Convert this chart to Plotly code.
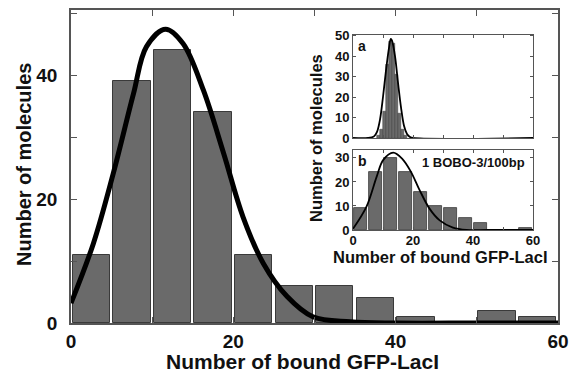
import plotly.graph_objects as go

# ---------------- data ----------------
# main histogram (bin width 5)
main_bin_starts = [0, 5, 10, 15, 20, 25, 30, 35, 40, 45, 50, 55]
main_counts = [11, 39, 44, 34, 11, 6, 6, 4, 1, 0, 2, 1]
main_fit_x = [0, 2.75, 5.2, 7.7, 9.3, 11.66, 13.8, 16.3, 18.8, 21.2, 23.7, 26.6, 29.8, 34.4, 40, 50, 60]
main_fit_y = [3.2, 12.8, 24.1, 37.0, 44.6, 47.4, 45.1, 37.6, 27.4, 17.1, 9.6, 4.3, 1.0, 0.2, 0.0, 0.0, 0.0]

# inset a (bin width 1)
a_bin_starts = [8, 9, 10, 11, 12, 13, 14, 15, 16, 17]
a_counts = [1, 4, 13, 36, 47, 46, 31, 12, 4, 1]
a_fit_x = [0, 5, 7, 8, 9, 10, 11, 12, 12.6, 13, 14, 15, 16, 17, 18, 19, 20, 60]
a_fit_y = [0, 0, 0.8, 3, 9, 20, 33, 44, 48.4, 47.5, 40, 27, 15, 6, 2, 0.5, 0, 0]

# inset b (bin width 5)
b_bin_starts = [0, 5, 10, 15, 20, 25, 30, 35, 40, 45, 50, 55]
b_counts = [9, 24, 30, 24, 16, 10, 9, 5, 3, 0, 0, 1]
b_fit_x = [0, 4.5, 7.9, 10.1, 13.4, 16.5, 19.4, 22.2, 25.5, 28.9, 33.3, 37.8, 45, 60]
b_fit_y = [0.5, 9.7, 22.2, 29.2, 32.2, 29.5, 24.0, 16.6, 8.9, 4.0, 1.0, 0.0, 0.0, 0.0]

main_xticks = [0, 10, 20, 30, 40, 50, 60]
main_xticktext = ["0", "", "20", "", "40", "", "60"]
main_yticks = [0, 10, 20, 30, 40, 50]
main_yticktext = ["0", "", "20", "", "40", ""]
a_yticks = [0, 10, 20, 30, 40, 50]
b_yticks = [0, 10, 20, 30]
inset_xticks = [0, 10, 20, 30, 40, 50, 60]
inset_xticktext = ["0", "", "20", "", "40", "", "60"]

xlabel = "Number of bound GFP-LacI"
ylabel = "Number of molecules"
note_b = "1 BOBO-3/100bp"

# ---------------- figure ----------------
W, H = 571, 374
L, R, T, B = 71, 13, 10, 51
PW, PH = W - L - R, H - T - B


def px(x):
    return (x - L) / PW


def py(y):
    return (H - B - y) / PH


FONT = "Liberation Sans, Arial, Helvetica, sans-serif"
BAR = "#6a6a6a"
EDGE = "#3a3a3a"
AX = "#555555"

fig = go.Figure()

fig.add_trace(go.Bar(x=[s + 2.5 for s in main_bin_starts], y=main_counts, width=4.6,
                     marker=dict(color=BAR, line=dict(color=EDGE, width=1)),
                     xaxis="x", yaxis="y", showlegend=False))
fig.add_trace(go.Scatter(x=main_fit_x, y=main_fit_y, mode="lines", line=dict(color="black", width=5, shape="spline"),
                         xaxis="x", yaxis="y", showlegend=False))

fig.add_trace(go.Bar(x=[s + 0.5 for s in a_bin_starts], y=a_counts, width=0.85,
                     marker=dict(color=BAR, line=dict(color=EDGE, width=0.5)),
                     xaxis="x2", yaxis="y2", showlegend=False))
fig.add_trace(go.Scatter(x=a_fit_x, y=a_fit_y, mode="lines", line=dict(color="black", width=1.8, shape="spline"),
                         xaxis="x2", yaxis="y2", showlegend=False))

fig.add_trace(go.Bar(x=[s + 2.5 for s in b_bin_starts], y=b_counts, width=4.5,
                     marker=dict(color=BAR, line=dict(color=EDGE, width=0.8)),
                     xaxis="x3", yaxis="y3", showlegend=False))
fig.add_trace(go.Scatter(x=b_fit_x, y=b_fit_y, mode="lines", line=dict(color="black", width=1.8, shape="spline"),
                         xaxis="x3", yaxis="y3", showlegend=False))

main_tf = dict(family=FONT, size=19, color="#111", weight="bold")
ins_tf = dict(family=FONT, size=13, color="#111", weight="bold")

common = dict(showline=True, linecolor=AX, linewidth=1.5, mirror="ticks", ticks="inside",
              tickcolor=AX, showgrid=False, zeroline=False, fixedrange=True, automargin=False)

fig.update_layout(
    template="none",
    width=W, height=H,
    margin=dict(l=L, r=R, t=T, b=B, autoexpand=False),
    paper_bgcolor="white", plot_bgcolor="white",
    bargap=0,
    xaxis=dict(domain=[0, 1], range=[0, 60], tickvals=main_xticks, ticktext=main_xticktext,
               ticklen=6, tickfont=main_tf, **common),
    yaxis=dict(domain=[0, 1], range=[0, 50.5], tickvals=main_yticks, ticktext=main_yticktext,
               ticklen=6, tickfont=main_tf, ticklabelstandoff=8, **common),
    xaxis2=dict(domain=[px(353), px(533)], anchor="y2", range=[0, 60], tickvals=inset_xticks,
                showticklabels=False, ticklen=3, **{**common, "linewidth": 1}),
    yaxis2=dict(domain=[py(138), py(34.5)], anchor="x2", range=[0, 50.5], tickvals=a_yticks,
                ticklen=3, tickfont=ins_tf, **{**common, "linewidth": 1}),
    xaxis3=dict(domain=[px(353), px(533)], anchor="y3", range=[0, 60], tickvals=inset_xticks,
                ticktext=inset_xticktext, ticklen=3, tickfont=ins_tf, ticklabelstandoff=-2,
                **{**common, "linewidth": 1}),
    yaxis3=dict(domain=[py(230), py(150)], anchor="x3", range=[0, 33.3], tickvals=b_yticks,
                ticklen=3, tickfont=ins_tf, **{**common, "linewidth": 1}),
)


def text_ann(text, x, y, size, angle=0, xa="center", ya="middle"):
    return dict(text=text, x=px(x), y=py(y), xref="paper", yref="paper", xanchor=xa, yanchor=ya,
                showarrow=False, textangle=angle, font=dict(family=FONT, size=size, color="#111"))


ann = [
    text_ann(f"<b>{xlabel}</b>", 302, 361, 21),
    text_ann(f"<b>{ylabel}</b>", 24, 165, 20, angle=-90),
    text_ann(f"<b>{xlabel}</b>", 440, 257, 16.5),
    text_ann(f"<b>{ylabel}</b>", 316, 138, 16.5, angle=-90),
    text_ann("<b>a</b>", 356, 36, 14, xa="left", ya="top"),
    text_ann("<b>b</b>", 356, 151, 14, xa="left", ya="top"),
    text_ann(f"<b>{note_b}</b>", 527, 162.5, 13, xa="right"),
]
fig.update_layout(annotations=ann)

fig.write_html("out.html", config={"displayModeBar": False},
               post_script="document.body.style.margin='0';document.body.style.overflow='hidden';")
